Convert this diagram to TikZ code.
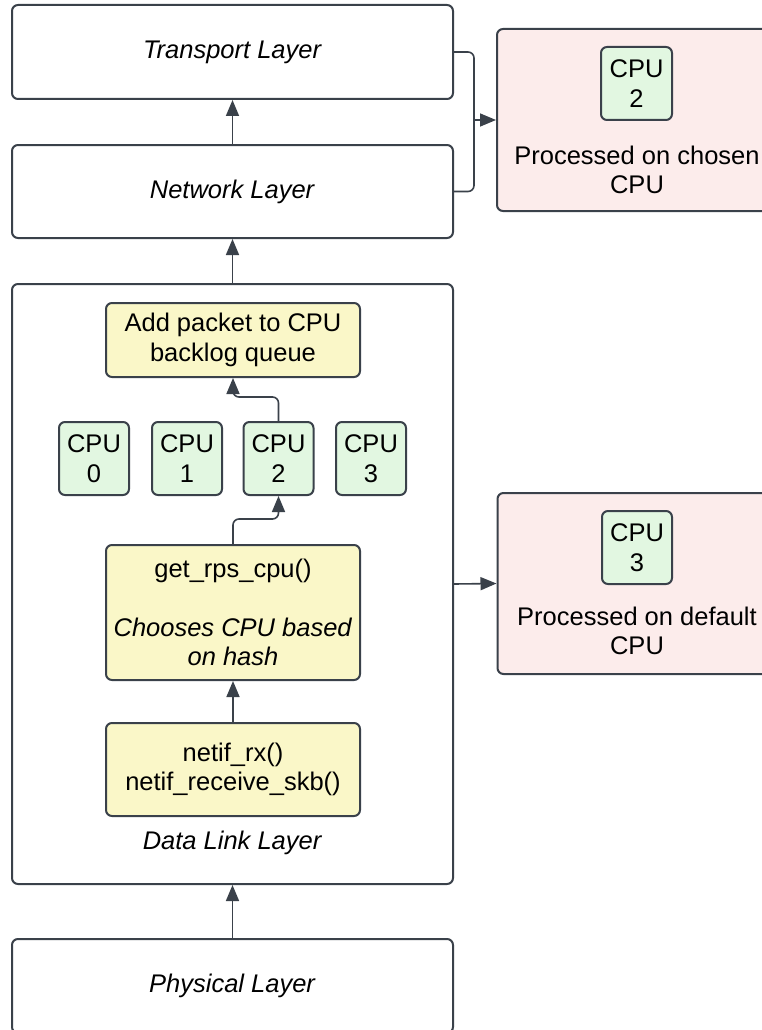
\documentclass[tikz,border=0pt]{standalone}
\usepackage{fontspec}
\setmainfont{Liberation Sans}
\usetikzlibrary{arrows.meta}

\definecolor{edge}{HTML}{3A414A}
\definecolor{yel}{HTML}{FAF7C8}
\definecolor{grn}{HTML}{E2F7E1}
\definecolor{pnk}{HTML}{FCECEB}

\tikzset{
  box/.style={draw=edge, line width=2pt, rounded corners=6pt, inner sep=0pt,
    align=center, font=\fontsize{25.5}{29.5}\selectfont},
  layerbox/.style={box, fill=white, minimum width=441pt},
  funcbox/.style={box, fill=yel, minimum width=254pt},
  cpubox/.style={box, fill=grn, minimum width=70pt, minimum height=73pt},
  resultbox/.style={box, fill=pnk, minimum width=280pt, minimum height=182pt},
  plain/.style={align=center, inner sep=0pt, font=\fontsize{25.5}{29.5}\selectfont},
  link/.style={draw=edge, line width=1.6pt},
  arr/.style={link, -{Triangle[length=16pt,width=13pt]}},
}

\begin{document}
\begin{tikzpicture}[x=1pt, y=-1pt]
  \useasboundingbox (0,0) rectangle (761,1030);

  % protocol layers
  \node[layerbox, minimum height=94pt] (transport) at (232.5,52) {\textit{Transport Layer}};
  \node[layerbox, minimum height=93pt] (network) at (232.5,191.5) {\textit{Network Layer}};
  \node[layerbox, minimum height=600pt] (dll) at (232.5,584) {};
  \node[layerbox, minimum height=94pt] (phys) at (232.5,986) {\textit{Physical Layer}};

  % inside the data link layer
  \node[funcbox, minimum height=74pt] (add) at (233,340) {Add packet to CPU\\backlog queue};
  \node[cpubox] (cpu0) at (94,458.5) {CPU\\0};
  \node[cpubox] (cpu1) at (187,458.5) {CPU\\1};
  \node[cpubox] (cpu2) at (278.5,458.5) {CPU\\2};
  \node[cpubox] (cpu3) at (371,458.5) {CPU\\3};
  \node[funcbox, minimum height=135pt] (rps) at (233,612.5)
    {get\_rps\_cpu()\\[29.5pt]\textit{Chooses CPU based}\\\textit{on hash}};
  \node[funcbox, minimum height=93pt] (netif) at (233,769.5) {netif\_rx()\\netif\_receive\_skb()};
  \node[plain] (dlllabel) at (232.5,843) {\textit{Data Link Layer}};

  % outcomes
  \node[resultbox] (chosen) at (637,120) {};
  \node[cpubox, minimum width=71pt] (cpuchosen) at (636.5,83.5) {CPU\\2};
  \node[plain] (chosentext) at (637,170) {Processed on chosen\\CPU};

  \node[resultbox, minimum height=181pt] (default) at (637.5,583.5) {};
  \node[cpubox] (cpudefault) at (637,547.5) {CPU\\3};
  \node[plain] (defaulttext) at (637,631) {Processed on default\\CPU};

  % connectors between layers
  \draw[arr] (network.north) -- (transport.south);
  \draw[arr] (dll.north) -- (network.south);
  \draw[arr] (phys.north) -- (dll.south);

  % packet path through the data link layer
  \draw[arr] (netif.north) -- (rps.south);
  \draw[arr, rounded corners=6pt] (rps.north) -- ++(0,-25) -| (cpu2.south);
  \draw[arr, rounded corners=6pt] (cpu2.north) -- ++(0,-24) -| (add.south);

  % upper layers merge into the chosen CPU
  \coordinate (merge) at (474,120);
  \draw[link, rounded corners=6pt] (transport.east) -| (merge);
  \draw[link, rounded corners=6pt] (network.east) -| (merge);
  \draw[arr] (merge) -- (chosen.west);

  % default path
  \draw[arr] (dll.east) -- (default.west);
\end{tikzpicture}
\end{document}
